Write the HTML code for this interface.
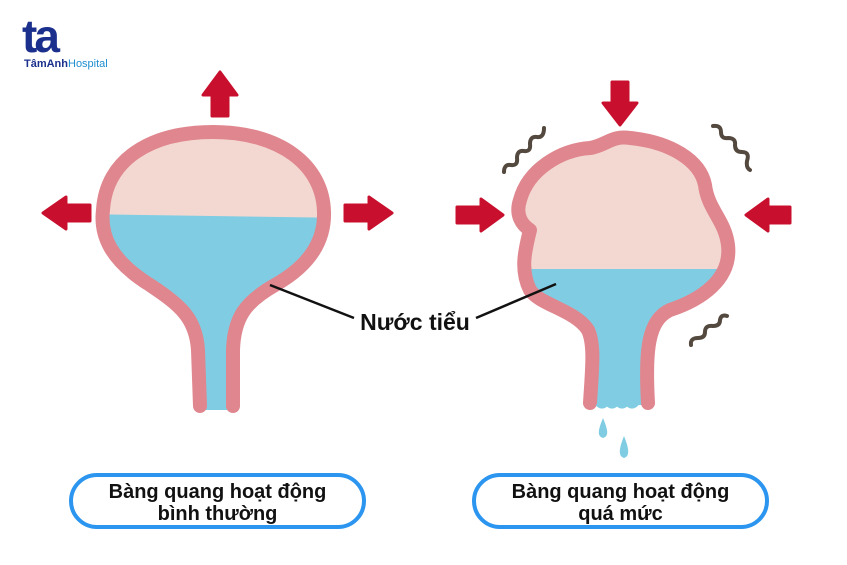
<!DOCTYPE html>
<html><head><meta charset="utf-8"><style>
html,body{margin:0;padding:0;background:#fff;}
body{width:847px;height:565px;position:relative;overflow:hidden;font-family:"Liberation Sans",sans-serif;}
.box{position:absolute;border:4px solid #2b95ef;border-radius:28px;box-sizing:border-box;height:56px;top:473px;text-align:center;font-weight:bold;font-size:20px;line-height:22px;padding-top:4px;color:#111;}
</style></head><body>
<svg width="847" height="565" style="position:absolute;left:0;top:0">
<defs>
<clipPath id="c1"><path d="M200 410 L198 350 C196 318 180 305 150 285 C110 260 100 235 103 210 C106 160 150 132 213 132 C280 132 323 165 324 212 C325 245 305 268 275 285 C245 302 234 318 233 350 L233 410 Z"/></clipPath>
<clipPath id="c2"><path d="M590 405 C592 370 595 345 588 330 C575 310 540 305 530 290 C520 270 525 250 530 230 C522 225 515 215 520 200 C528 170 560 150 590 148 C605 146 612 135 630 138 C670 142 700 160 705 185 C708 210 725 220 728 245 C732 280 700 300 670 310 C648 320 645 350 648 405 Z"/></clipPath>
</defs>
<!-- logo -->
<text x="22" y="52" font-family="Liberation Sans" font-weight="bold" font-size="46" fill="#1b2f8c" letter-spacing="-3">ta</text>
<text x="24" y="67" font-family="Liberation Sans" font-weight="bold" font-size="11" fill="#1b2f8c">TâmAnh</text>
<text x="68" y="67" font-family="Liberation Sans" font-size="11" fill="#1f8ed0">Hospital</text>
<!-- left bladder -->
<g clip-path="url(#c1)"><rect x="80" y="110" width="270" height="310" fill="#80cde3"/><polygon points="80,110 350,110 350,218 80,214" fill="#f3d8d1"/></g>
<path d="M200 406 L198 350 C196 318 180 305 150 285 C110 260 100 235 103 210 C106 160 150 132 213 132 C280 132 323 165 324 212 C325 245 305 268 275 285 C245 302 234 318 233 350 L233 406" fill="none" stroke="#e0868f" stroke-width="14" stroke-linecap="round" stroke-linejoin="round"/>
<!-- right bladder -->
<g clip-path="url(#c2)"><rect x="500" y="120" width="250" height="300" fill="#80cde3"/><rect x="500" y="120" width="250" height="149" fill="#f3d8d1"/></g>
<path d="M590 403 C592 370 595 345 588 330 C575 310 540 305 530 290 C520 270 525 250 530 230 C522 225 515 215 520 200 C528 170 560 150 590 148 C605 146 612 135 630 138 C670 142 700 160 705 185 C708 210 725 220 728 245 C732 280 700 300 670 310 C648 320 645 350 648 403" fill="none" stroke="#e0868f" stroke-width="14" stroke-linecap="round" stroke-linejoin="round"/>
<path d="M597 404 q5 5 10 0 q5 5 10 0 q5 5 10 0 q5 5 10 0" fill="none" stroke="#80cde3" stroke-width="4"/>
<path d="M603 418 C599 428 596 436 603 438 C610 436 607 428 603 418Z" fill="#80cde3"/>
<path d="M624 436 C620 446 617 456 624 458 C631 456 628 446 624 436Z" fill="#80cde3"/>
<!-- arrows -->
<g fill="#c8102e" stroke="#c8102e" stroke-width="3" stroke-linejoin="round">
<path d="M212 116 L212 95 L203 95 L220 72 L237 95 L228 95 L228 116 Z"/>
<path d="M90 205 L66 205 L66 197 L43 213 L66 229 L66 221 L90 221 Z"/>
<path d="M345 205 L369 205 L369 197 L392 213 L369 229 L369 221 L345 221 Z"/>
<path d="M612 82 L628 82 L628 103 L637 103 L620 125 L603 103 L612 103 Z"/>
<path d="M457 207 L481 207 L481 199 L503 215 L481 231 L481 223 L457 223 Z"/>
<path d="M790 207 L768 207 L768 199 L746 215 L768 231 L768 223 L790 223 Z"/>
</g>
<!-- squiggles -->
<g fill="none" stroke="#54493f" stroke-width="4" stroke-linecap="round">
<path d="M504 172 q0 -8 7 -7 q7 1 6 -7 q0 -8 7 -7 q7 1 6 -7 q0 -8 7 -7 q7 1 7 -9"/>
<path d="M713 126 q8 -1 8 6 q0 7 7 6 q8 0 7 7 q0 7 7 7 q8 0 5 9 q-1 7 3 9"/>
<path d="M691 345 q-1 -7 7 -7 q7 0 7 -6 q0 -7 8 -6 q7 0 7 -6 q1 -6 7 -4"/>
</g>
<!-- label lines -->
<line x1="270" y1="285" x2="354" y2="318" stroke="#111" stroke-width="2.5"/>
<line x1="476" y1="318" x2="556" y2="284" stroke="#111" stroke-width="2.5"/>
<text x="415" y="330" text-anchor="middle" font-family="Liberation Sans" font-weight="bold" font-size="23" fill="#111">Nước tiểu</text>
</svg>
<div class="box" style="left:69px;width:297px;">Bàng quang hoạt động<br>bình thường</div>
<div class="box" style="left:472px;width:297px;">Bàng quang hoạt động<br>quá mức</div>
</body></html>
